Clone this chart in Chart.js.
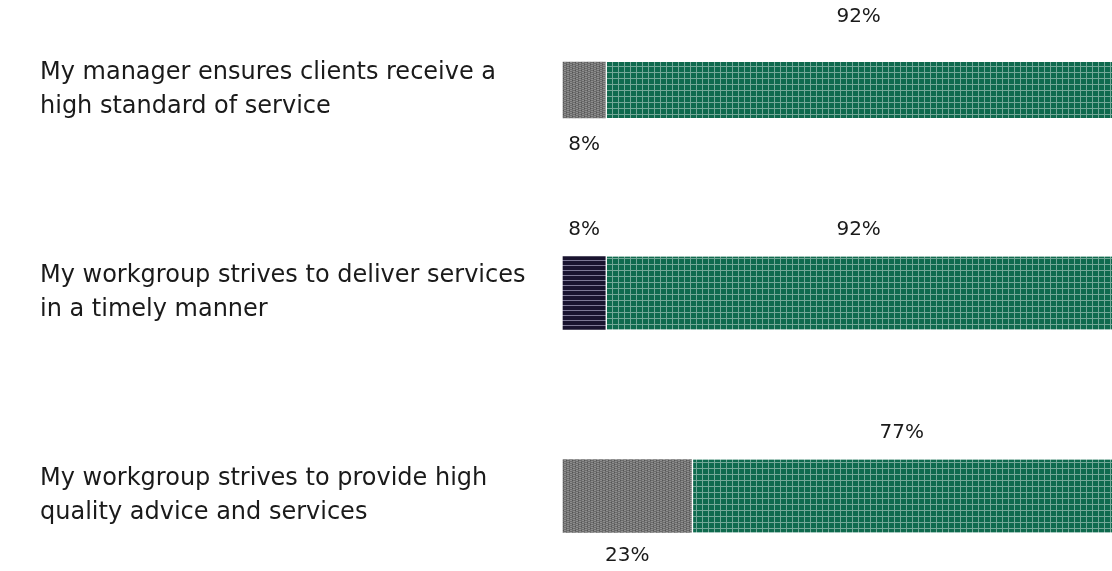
<!DOCTYPE html>
<html>
<head>
<meta charset="utf-8">
<script src="https://cdn.jsdelivr.net/npm/chart.js@4.4.1/dist/chart.umd.min.js"></script>
<style>
  body { margin: 0; background: #fff; }
  #wrap { width: 1112px; height: 571px; position: relative; }
</style>
</head>
<body>
<div id="wrap"><canvas id="chart"></canvas></div>
<script>
// data
var categories = [
    ['My manager ensures clients receive a', 'high standard of service'],
    ['My workgroup strives to deliver services', 'in a timely manner'],
    ['My workgroup strives to provide high', 'quality advice and services']
];
var disagree = [null, 7.7, null];
var neutral = [7.7, null, 23.4];
var agree = [92.3, 92.3, 76.6];

// --- patterns
function makePattern(w, h, draw) {
    var c = document.createElement('canvas');
    c.width = w; c.height = h;
    var g = c.getContext('2d');
    draw(g);
    return g.createPattern(c, 'repeat');
}

var greenPattern = makePattern(6, 6, function (g) {
    g.fillStyle = '#0f6a4e';
    g.fillRect(0, 0, 6, 6);
    g.fillStyle = '#74a898';
    g.fillRect(0, 0, 6, 1);
    g.fillRect(0, 0, 1, 6);
});

var navyPattern = makePattern(4, 5, function (g) {
    g.fillStyle = '#19132f';
    g.fillRect(0, 0, 4, 5);
    g.fillStyle = '#7c7794';
    g.fillRect(0, 0, 4, 1);
});

var grayPattern = makePattern(6, 4, function (g) {
    g.fillStyle = '#6c6c6c';
    g.fillRect(0, 0, 6, 4);
    g.fillStyle = '#8e8e8e';
    g.fillRect(0, 0, 2, 1);
    g.fillRect(3, 1, 2, 1);
    g.fillRect(0, 2, 2, 1);
    g.fillRect(3, 3, 2, 1);
    g.fillStyle = '#555555';
    g.fillRect(2, 0, 1, 1);
    g.fillRect(5, 2, 1, 1);
});

var rowThickness = [56, 73, 73];

var series = [
    { name: 'disagree', values: disagree, fill: navyPattern },
    { name: 'neutral', values: neutral, fill: grayPattern },
    { name: 'agree', values: agree, fill: greenPattern }
];

// one dataset per row and series so each row can have its own thickness
var datasets = [];
series.forEach(function (s) {
    categories.forEach(function (cat, i) {
        if (s.values[i] === null) return;
        datasets.push({
            label: s.name + ' ' + i,
            series: s.name,
            row: i,
            data: categories.map(function (c, j) { return j === i ? s.values[i] : null; }),
            backgroundColor: s.fill,
            borderColor: '#ffffff',
            borderWidth: s.name === 'agree' ? { left: 2, top: 0, right: 0, bottom: 0 } : 0,
            borderSkipped: false,
            barThickness: rowThickness[i],
            clip: false,
            stack: 'all'
        });
    });
});

// where each percent label goes
function labelPlace(ds) {
    if (ds.series === 'agree') return { side: 'above', gap: ds.row === 0 ? 45 : 27 };
    if (ds.series === 'disagree') return { side: 'above', gap: 27 };
    return { side: 'below', gap: ds.row === 2 ? 23 : 27 };
}

var percentLabels = {
    id: 'percentLabels',
    afterDatasetsDraw: function (chart) {
        var ctx = chart.ctx;
        ctx.save();
        ctx.font = '20px "DejaVu Sans", sans-serif';
        ctx.fillStyle = '#1a1a1a';
        ctx.textAlign = 'center';
        ctx.textBaseline = 'middle';
        chart.data.datasets.forEach(function (ds, di) {
            var meta = chart.getDatasetMeta(di);
            meta.data.forEach(function (el, i) {
                var v = ds.data[i];
                if (v === null || v === undefined) return;
                var p = el.getProps(['x', 'y', 'base', 'height'], true);
                var cx = (p.x + p.base) / 2;
                var place = labelPlace(ds);
                var cy = place.side === 'above' ? p.y - p.height / 2 - place.gap : p.y + p.height / 2 + place.gap;
                ctx.fillText(Math.round(v) + '%', cx, cy);
            });
        });
        ctx.restore();
    }
};

new Chart(document.getElementById('chart'), {
    type: 'bar',
    data: { labels: categories, datasets: datasets },
    options: {
        indexAxis: 'y',
        responsive: true,
        maintainAspectRatio: false,
        animation: false,
        layout: { padding: { top: 90, bottom: 75, left: 40, right: 0 } },
        plugins: {
            legend: { display: false },
            tooltip: { enabled: false }
        },
        scales: {
            x: {
                stacked: true,
                min: 0,
                max: 100,
                display: false
            },
            y: {
                stacked: true,
                offset: false,
                grid: { display: false },
                border: { display: false },
                afterFit: function (scale) { scale.width = 523; },
                ticks: {
                    crossAlign: 'far',
                    color: '#1a1a1a',
                    font: { family: '"DejaVu Sans", sans-serif', size: 24, lineHeight: 1.42 }
                }
            }
        }
    },
    plugins: [percentLabels]
});
</script>
</body>
</html>
